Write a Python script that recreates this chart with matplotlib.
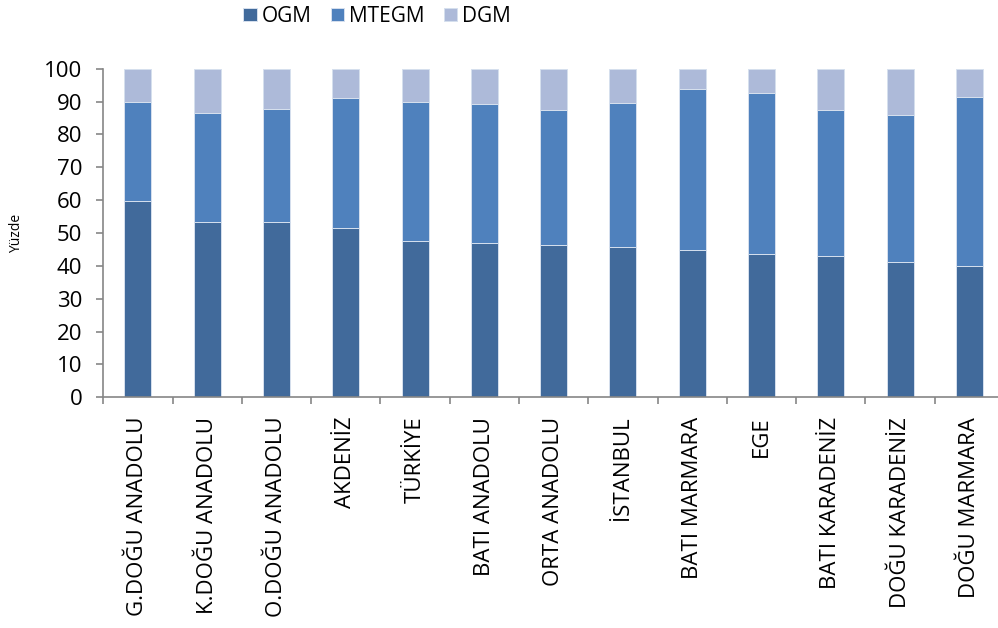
import numpy as np
import matplotlib.pyplot as plt

plt.rcParams['font.family'] = ['Open Sans', 'DejaVu Sans']

# data
regions = ["G.DOĞU ANADOLU", "K.DOĞU ANADOLU", "O.DOĞU ANADOLU", "AKDENİZ", "TÜRKİYE",
           "BATI ANADOLU", "ORTA ANADOLU", "İSTANBUL", "BATI MARMARA", "EGE",
           "BATI KARADENİZ", "DOĞU KARADENİZ", "DOĞU MARMARA"]
ogm = [59.8, 53.3, 53.3, 51.4, 47.6, 47.0, 46.2, 45.6, 44.7, 43.5, 42.9, 41.1, 39.9]
mtegm = [30.1, 33.3, 34.4, 39.7, 42.3, 42.3, 41.3, 44.1, 49.1, 49.2, 44.6, 44.9, 51.6]
dgm = [10.1, 13.4, 12.3, 8.9, 10.1, 10.7, 12.5, 10.3, 6.2, 7.3, 12.5, 14.0, 8.5]

c_ogm = "#416a9b"
c_mtegm = "#4f81bd"
c_dgm = "#adbad9"
edge = "#d6e0ee"

fig = plt.figure(figsize=(9.98, 6.28), dpi=100)
ax = fig.add_axes([0.1035, 0.3674, 0.9025, 0.5232])

x = np.arange(len(regions))
w = 0.39
ogm = np.array(ogm)
mtegm = np.array(mtegm)
dgm = np.array(dgm)
ax.bar(x, ogm, w, color=c_ogm, edgecolor=edge, linewidth=0.7, label="OGM")
ax.bar(x, mtegm, w, bottom=ogm, color=c_mtegm, edgecolor=edge, linewidth=0.7, label="MTEGM")
ax.bar(x, dgm, w, bottom=ogm + mtegm, color=c_dgm, edgecolor=edge, linewidth=0.7, label="DGM")

ax.set_xlim(-0.5, len(regions) - 0.5)
ax.set_ylim(0, 100)
ax.set_yticks(range(0, 101, 10))

# category boundaries as major ticks, names on minor ticks
ax.set_xticks(np.arange(-0.5, len(regions), 1.0))
ax.set_xticklabels([])
ax.set_xticks(x, minor=True)
ax.set_xticklabels(regions, minor=True, rotation=90, fontsize=16, va="top")
ax.tick_params(axis="x", which="minor", length=0, pad=14)
ax.tick_params(axis="x", which="major", length=5, width=1.2, color="#868686", direction="out")
ax.tick_params(axis="y", length=5, width=1.2, color="#868686", labelsize=16, pad=10)

for s in ["top", "right"]:
    ax.spines[s].set_visible(False)
for s in ["left", "bottom"]:
    ax.spines[s].set_color("#868686")
    ax.spines[s].set_linewidth(1.2)

fig.text(0.017, 0.6287, "Yüzde", rotation=90, fontsize=10, ha="center", va="center")

fig.legend(loc="center", bbox_to_anchor=(0.378, 0.974), ncol=3, frameon=False,
           fontsize=15, handlelength=0.65, handleheight=0.65, handletextpad=0.25,
           columnspacing=0.9)

fig.savefig("out.png", dpi=100)
